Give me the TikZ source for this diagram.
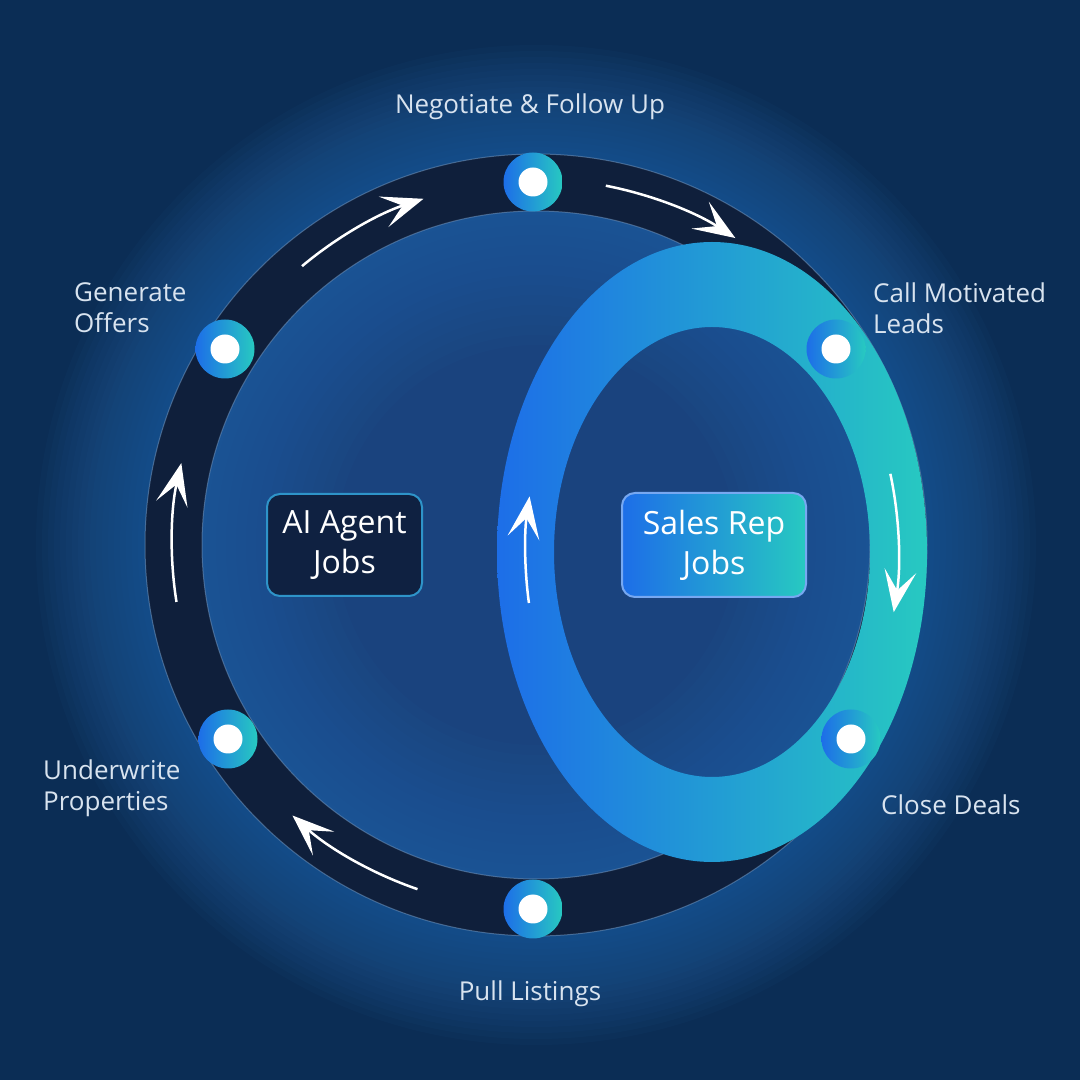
\documentclass[tikz,border=0pt]{standalone}
\usepackage{fontspec}
\setmainfont{Open Sans}
\usepackage{xcolor}
\usepackage{tikz}
\usetikzlibrary{arrows.meta,positioning}
\definecolor{navybg}{HTML}{0B2D55}
\definecolor{navyglow}{HTML}{2363A8}
\definecolor{ringdark}{HTML}{0F1F3B}
\definecolor{discin}{HTML}{1A437E}
\definecolor{discout}{HTML}{2A6DB5}
\definecolor{loopblue}{HTML}{1D6EE8}
\definecolor{loopteal}{HTML}{27C9C1}
\definecolor{labeltext}{HTML}{D8E3EF}
\definecolor{agentfill}{HTML}{0F2141}
\definecolor{agentedge}{HTML}{2E94C9}

\begin{document}
\begin{tikzpicture}[x=1pt, y=1pt]
  \tikzstyle{label}=[text=labeltext, font=\fontsize{26}{31}\selectfont, align=left, inner sep=0pt]
  \tikzstyle{stopdot}=[circle, minimum size=59pt, inner sep=0pt, left color=loopblue, right color=loopteal,
    path picture={\fill[white] (path picture bounding box.center) circle[radius=14.5];}]
  \tikzstyle{jobbox}=[rounded corners=13pt, line width=2pt, text=white, align=center, font=\fontsize{32}{40}\selectfont]
  \tikzstyle{flow}=[white, line width=2.5pt, -{Stealth[length=42pt, width=32pt, inset=20pt]}]

  \useasboundingbox (0,0) rectangle (1080,1080);
  \fill[navybg] (0,0) rectangle (1080,1080);

  \coordinate (ringc) at (536,535);
  \coordinate (loopc) at (712,528);

  % glow round the ring, inner disc, dark ring
  \foreach \r in {392,398,...,500}
    \fill[navyglow, opacity=0.06] (ringc) circle[radius=\r];
  \fill[discin] (ringc) circle[radius=334];
  \foreach \r in {200,210,...,330}
    \fill[discout, opacity=0.05, even odd rule] (ringc) circle[radius=334] circle[radius=\r];
  \fill[ringdark, even odd rule] (ringc) circle[radius=391] circle[radius=334];
  \draw[navyglow!60!white, opacity=0.5, line width=1pt] (ringc) circle[radius=391] circle[radius=334];

  % sales rep loop
  \shade[left color=loopblue, right color=loopteal, even odd rule]
    (loopc) ellipse[x radius=215, y radius=310] (loopc) ellipse[x radius=158, y radius=225];

  % flow arrows
  \draw[flow] ([shift={(130:364)}]ringc) arc[start angle=130, end angle=108, radius=364];
  \draw[flow] ([shift={(79:366)}]ringc) arc[start angle=79, end angle=57, radius=366];
  \draw[flow] ([shift={(189:364)}]ringc) arc[start angle=189, end angle=167, radius=364];
  \draw[flow] ([shift={(251:364)}]ringc) arc[start angle=251, end angle=228, radius=364];
  \draw[flow] ([shift={(17:186.5 and 267.5)}]loopc) arc[start angle=17, end angle=-13, x radius=186.5, y radius=267.5];
  \draw[flow] ([shift={(191:186.5 and 267.5)}]loopc) arc[start angle=191, end angle=168, x radius=186.5, y radius=267.5];

  % stage dots
  \node[stopdot] (negotiatedot) at (533,898) {};
  \node[stopdot] (offersdot) at (225,731) {};
  \node[stopdot] (leadsdot) at (836,731) {};
  \node[stopdot] (underwritedot) at (228,341) {};
  \node[stopdot] (closedot) at (851,341) {};
  \node[stopdot] (listingsdot) at (533,171) {};

  % stage labels
  \node[label] (negotiate) at (530,973) {Negotiate \& Follow Up};
  \node[label, anchor=west] (offers) at (74,772) {Generate\\Offers};
  \node[label, anchor=west] (leads) at (873,772) {Call Motivated\\Leads};
  \node[label, anchor=west] (underwrite) at (43,292) {Underwrite\\Properties};
  \node[label, anchor=west] (close) at (881,275) {Close Deals};
  \node[label] (listings) at (530,86) {Pull Listings};

  % job boxes
  \node[jobbox, fill=agentfill, draw=agentedge, minimum width=155pt, minimum height=102pt] (agent) at (344.5,535) {AI Agent\\Jobs};
  \node[jobbox, left color=loopblue, right color=loopteal, draw=loopblue!60!white, minimum width=184pt, minimum height=104pt] (salesrep) at (714,535) {Sales Rep\\Jobs};
\end{tikzpicture}
\end{document}
